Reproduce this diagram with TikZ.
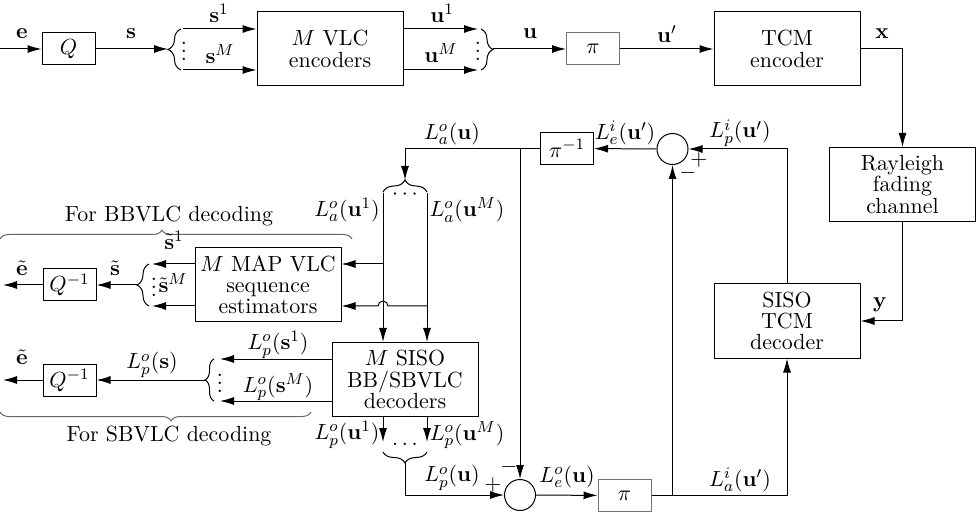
\documentclass[tikz,border=0pt]{standalone}
\usetikzlibrary{positioning,arrows.meta,decorations.pathreplacing}

\begin{document}
\begin{tikzpicture}[
        x=0.5pt, y=-0.5pt,
        line width=0.5pt,
        every node/.style={align=center, inner sep=1.5pt, font=\fontsize{10.95}{10.6}\selectfont},
        block/.style={rectangle, draw, minimum width=73pt, minimum height=37pt, inner sep=1pt},
        small/.style={rectangle, draw, minimum width=26.5pt, minimum height=16pt, inner sep=1pt},
        perm/.style={small, draw=black!55},
        adder/.style={circle, draw, minimum size=15.5pt, inner sep=0pt},
        vdot/.style={yshift=2pt},
        sig/.style={-{Latex[length=7pt, width=4pt]}},
        grp/.style={decorate, decoration={brace, amplitude=#1}},
        grp/.default=6pt
    ]

    \useasboundingbox (0,0) rectangle (977,512);

    % Transmitter
    \node[small] (q) at (68.5,49) {$Q$};
    \node[block] (vlcenc) at (330,49) {$M$ VLC\\encoders};
    \node[perm] (pi) at (593,49) {$\pi$};
    \node[block] (tcmenc) at (787,49) {TCM\\encoder};

    % Channel and receiver
    \node[block] (chan) at (902.5,184.5) {Rayleigh\\fading\\channel};
    \node[block] (tcmdec) at (787,321) {SISO\\TCM\\decoder};
    \node[block] (mapdec) at (268,285) {$M$ MAP VLC\\sequence\\estimators};
    \node[block] (sisodec) at (405,379.5) {$M$ SISO\\BB/SBVLC\\decoders};
    \node[small] (pinv) at (567,148.5) {$\pi^{-1}$};
    \node[perm] (pib) at (624.5,495.5) {$\pi$};
    \node[adder] (addt) at (672.5,149) {};
    \node[adder] (addb) at (520,495) {};
    \node[small] (qinva) at (69.5,285) {$Q^{-1}$};
    \node[small] (qinvb) at (69.5,380) {$Q^{-1}$};

    % split and merge points
    \coordinate (src) at (0,49);
    \coordinate (stip) at (168,49);
    \coordinate (s1) at (183,29);
    \coordinate (sM) at (183,70);
    \coordinate (u1) at (478,29);
    \coordinate (uM) at (478,70);
    \coordinate (utip) at (493,49);
    \coordinate (atip) at (405,180);
    \coordinate (a1) at (383,193);
    \coordinate (aM) at (427,193);
    \coordinate (b1) at (383,264);
    \coordinate (bM) at (427,306);
    \coordinate (st1) at (152,264);
    \coordinate (stM) at (152,306);
    \coordinate (sttip) at (137,285);
    \coordinate (outa) at (3,285);
    \coordinate (ls1) at (220,359);
    \coordinate (lsM) at (220,401);
    \coordinate (lstip) at (205,380);
    \coordinate (outb) at (3,380);
    \coordinate (p1) at (383,442);
    \coordinate (pM) at (427,442);
    \coordinate (ptip) at (405,463);
    \coordinate (tapa) at (pinv.west -| addb.north);
    \coordinate (tapb) at (pib.east -| addt.south);

    % Top row
    \draw[sig] (src) -- (q);
    \draw[sig] (q) -- (stip);
    \draw[grp=6.5pt] (181,70) -- (181,29);
    \node[vdot] (sdots) at (184,49) {$\vdots$};
    \draw[sig] (s1) -- (s1 -| vlcenc.west);
    \draw[sig] (sM) -- (sM -| vlcenc.west);
    \draw[sig] (u1 -| vlcenc.east) -- (u1);
    \draw[sig] (uM -| vlcenc.east) -- (uM);
    \draw[grp=6pt] (481,29) -- (481,70);
    \node[vdot] (udots) at (478,49) {$\vdots$};
    \draw[sig] (utip) -- (pi);
    \draw[sig] (pi) -- (tcmenc);
    \draw[sig] (tcmenc.east) -| (chan.north);
    \draw[sig] (chan.south) |- (tcmdec.east);

    % Iterative loop
    \draw[sig] (tcmdec.north) |- (addt.east);
    \draw[sig] (addt) -- (pinv);
    \draw[sig] (pinv.west) -| (atip);
    \draw[sig] (tapa) -- (addb);
    \draw[grp=6pt] (383,192) -- (427,192);
    \node (adots) at (405,195) {$\cdots$};
    \draw[sig] (a1) -- (a1 |- sisodec.north);
    \draw[sig] (aM) -- (aM |- sisodec.north);
    \draw[sig] (b1) -- (b1 -| mapdec.east);
    \draw[sig] (bM) -- (388,306) arc[start angle=0, end angle=180, radius=2.5pt] -- (bM -| mapdec.east);

    % MAP VLC estimators
    \draw[sig] (st1 -| mapdec.west) -- (st1);
    \draw[sig] (stM -| mapdec.west) -- (stM);
    \draw[grp=6pt] (149,306) -- (149,264);
    \node[vdot] (stdots) at (154,285) {$\vdots$};
    \draw[sig] (sttip) -- (qinva);
    \draw[sig] (qinva) -- (outa);

    % SISO VLC decoders
    \draw[sig] (ls1 -| sisodec.west) -- (ls1);
    \draw[sig] (lsM -| sisodec.west) -- (lsM);
    \draw[grp=4.5pt] (214,401) -- (214,359);
    \node[vdot] (lsdots) at (220,381) {$\vdots$};
    \draw[sig] (lstip) -- (qinvb);
    \draw[sig] (qinvb) -- (outb);
    \draw[sig] (p1 |- sisodec.south) -- (p1);
    \draw[sig] (pM |- sisodec.south) -- (pM);
    \node (pdots) at (405,444) {$\ldots$};
    \draw[grp=5.5pt] (427,452) -- (383,452);
    \draw[sig] (ptip) |- (addb);
    \draw[sig] (addb) -- (pib);
    \draw[sig] (pib.east) -| (tcmdec.south);
    \draw[sig] (tapb) -- (addt);

    % Decoding groups
    \draw[grp=4.5pt, black!60, decoration={aspect=0.46}] (0,239) -- (352,239);
    \node (bbtxt) at (169,216) {For BBVLC decoding};
    \draw[grp=4.5pt, black!60, decoration={aspect=0.45}] (311,412) -- (0,412);
    \node (sbtxt) at (169,436) {For SBVLC decoding};

    % Signal labels
    \node (le) at (22,34) {$\mathbf{e}$};
    \node (ls) at (131,34) {$\mathbf{s}$};
    \node (ls1l) at (219,13) {$\mathbf{s}^1$};
    \node (lsMl) at (220,54) {$\mathbf{s}^M$};
    \node (lu1) at (442,13) {$\mathbf{u}^1$};
    \node (luM) at (441,53) {$\mathbf{u}^M$};
    \node (lu) at (530,34) {$\mathbf{u}$};
    \node (lup) at (667,34) {$\mathbf{u}'$};
    \node (lx) at (882,34) {$\mathbf{x}$};
    \node (ly) at (880,305) {$\mathbf{y}$};
    \node (lpi) at (740,133) {$L^i_p(\mathbf{u}')$};
    \node (lei) at (625,133) {$L^i_e(\mathbf{u}')$};
    \node (lao) at (452,134) {$L^o_a(\mathbf{u})$};
    \node (lao1) at (347,210) {$L^o_a(\mathbf{u}^1)$};
    \node (laoM) at (467,210) {$L^o_a(\mathbf{u}^M)$};
    \node (lst1) at (174,240) {$\tilde{\mathbf{s}}^1$};
    \node (lstM) at (173,283) {$\tilde{\mathbf{s}}^M$};
    \node (lst) at (115,268) {$\tilde{\mathbf{s}}$};
    \node (lea) at (22,268) {$\tilde{\mathbf{e}}$};
    \node (lps1) at (278,345) {$L^o_p(\mathbf{s}^1)$};
    \node (lpsM) at (278,387) {$L^o_p(\mathbf{s}^M)$};
    \node (lps) at (152,365) {$L^o_p(\mathbf{s})$};
    \node (leb) at (22,357) {$\tilde{\mathbf{e}}$};
    \node (lpu1) at (347,435) {$L^o_p(\mathbf{u}^1)$};
    \node (lpuM) at (467,435) {$L^o_p(\mathbf{u}^M)$};
    \node (lpu) at (452,478) {$L^o_p(\mathbf{u})$};
    \node (leo) at (567,477) {$L^o_e(\mathbf{u})$};
    \node (lai) at (740,480) {$L^i_a(\mathbf{u}')$};

    % Adder signs
    \node (ptop) at (699,160) {$+$};
    \node (mtop) at (688,173) {$-$};
    \node (pbot) at (493,485) {$+$};
    \node (mbot) at (509,467) {$-$};

\end{tikzpicture}
\end{document}
